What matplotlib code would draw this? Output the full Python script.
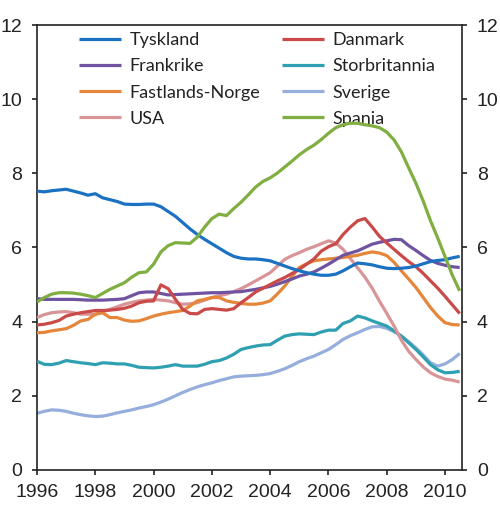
import numpy as np
import matplotlib
matplotlib.use("Agg")
import matplotlib.pyplot as plt

# quarterly data, 1996Q1 - 2010Q3
years = 1996 + 0.25 * np.arange(59)

tyskland = [7.52, 7.50, 7.53, 7.55, 7.57, 7.52, 7.47, 7.41, 7.45, 7.34, 7.29, 7.24,
            7.17, 7.16, 7.16, 7.17, 7.17, 7.10, 6.97, 6.84, 6.67, 6.50, 6.35, 6.22,
            6.10, 5.98, 5.86, 5.76, 5.71, 5.69, 5.69, 5.67, 5.64, 5.57, 5.50, 5.43,
            5.37, 5.32, 5.28, 5.25, 5.25, 5.28, 5.37, 5.48, 5.58, 5.56, 5.53, 5.48,
            5.44, 5.43, 5.44, 5.46, 5.50, 5.56, 5.62, 5.65, 5.67, 5.72, 5.76]
danmark = [3.91, 3.93, 3.97, 4.03, 4.15, 4.20, 4.24, 4.27, 4.30, 4.30, 4.31, 4.33,
           4.36, 4.42, 4.51, 4.55, 4.56, 4.99, 4.89, 4.60, 4.33, 4.22, 4.21, 4.33,
           4.35, 4.33, 4.31, 4.35, 4.51, 4.65, 4.80, 4.90, 5.00, 5.10, 5.19, 5.30,
           5.41, 5.55, 5.69, 5.90, 6.02, 6.10, 6.35, 6.55, 6.72, 6.78, 6.55, 6.30,
           6.12, 5.95, 5.78, 5.62, 5.48, 5.30, 5.10, 4.90, 4.68, 4.45, 4.22]
frankrike = [4.62, 4.60, 4.60, 4.60, 4.60, 4.60, 4.59, 4.58, 4.58, 4.58, 4.59, 4.60,
             4.62, 4.70, 4.78, 4.80, 4.80, 4.76, 4.72, 4.73, 4.74, 4.75, 4.76, 4.77,
             4.78, 4.78, 4.79, 4.80, 4.81, 4.84, 4.87, 4.91, 4.95, 5.01, 5.08, 5.15,
             5.23, 5.28, 5.34, 5.44, 5.55, 5.67, 5.79, 5.85, 5.91, 6.00, 6.09, 6.14,
             6.18, 6.22, 6.21, 6.05, 5.92, 5.78, 5.65, 5.57, 5.52, 5.48, 5.46]
storbritannia = [2.93, 2.85, 2.84, 2.88, 2.95, 2.92, 2.89, 2.87, 2.84, 2.89, 2.88, 2.86,
                 2.86, 2.82, 2.77, 2.76, 2.75, 2.77, 2.80, 2.84, 2.80, 2.80, 2.80, 2.85,
                 2.92, 2.95, 3.02, 3.12, 3.25, 3.30, 3.34, 3.37, 3.38, 3.50, 3.61, 3.65,
                 3.67, 3.66, 3.65, 3.72, 3.77, 3.77, 3.95, 4.02, 4.15, 4.10, 4.02, 3.95,
                 3.88, 3.75, 3.61, 3.43, 3.25, 3.05, 2.84, 2.70, 2.62, 2.63, 2.66]
norge = [3.70, 3.71, 3.75, 3.78, 3.81, 3.90, 4.02, 4.06, 4.20, 4.24, 4.11, 4.11,
         4.04, 4.01, 4.02, 4.08, 4.15, 4.20, 4.24, 4.27, 4.30, 4.42, 4.56, 4.60,
         4.65, 4.65, 4.56, 4.52, 4.49, 4.47, 4.47, 4.50, 4.56, 4.75, 4.96, 5.22,
         5.46, 5.56, 5.64, 5.67, 5.69, 5.71, 5.73, 5.76, 5.79, 5.84, 5.88, 5.85,
         5.78, 5.60, 5.37, 5.15, 4.92, 4.65, 4.38, 4.15, 3.97, 3.92, 3.91]
sverige = [1.53, 1.58, 1.62, 1.61, 1.58, 1.53, 1.49, 1.46, 1.44, 1.45, 1.49, 1.54,
           1.58, 1.62, 1.67, 1.71, 1.76, 1.83, 1.91, 2.00, 2.09, 2.17, 2.24, 2.30,
           2.35, 2.41, 2.46, 2.51, 2.53, 2.54, 2.55, 2.57, 2.60, 2.66, 2.73, 2.82,
           2.92, 3.00, 3.07, 3.16, 3.25, 3.38, 3.52, 3.62, 3.70, 3.79, 3.86, 3.87,
           3.82, 3.73, 3.61, 3.46, 3.29, 3.10, 2.89, 2.80, 2.86, 2.98, 3.14]
usa = [4.11, 4.19, 4.24, 4.26, 4.27, 4.24, 4.20, 4.20, 4.20, 4.26, 4.33, 4.40,
       4.47, 4.52, 4.56, 4.58, 4.60, 4.58, 4.56, 4.51, 4.47, 4.48, 4.51, 4.58,
       4.65, 4.70, 4.74, 4.81, 4.89, 4.99, 5.10, 5.21, 5.32, 5.50, 5.68, 5.78,
       5.86, 5.95, 6.02, 6.10, 6.18, 6.12, 5.95, 5.70, 5.45, 5.20, 4.90, 4.55,
       4.22, 3.88, 3.50, 3.20, 2.98, 2.78, 2.62, 2.52, 2.45, 2.42, 2.37]
spania = [4.53, 4.65, 4.74, 4.78, 4.78, 4.77, 4.74, 4.70, 4.65, 4.76, 4.87, 4.96,
          5.05, 5.20, 5.32, 5.34, 5.55, 5.88, 6.05, 6.13, 6.12, 6.11, 6.28, 6.55,
          6.78, 6.90, 6.86, 7.05, 7.22, 7.42, 7.63, 7.78, 7.88, 8.01, 8.17, 8.33,
          8.50, 8.64, 8.76, 8.91, 9.08, 9.23, 9.31, 9.35, 9.35, 9.31, 9.28, 9.23,
          9.11, 8.90, 8.58, 8.15, 7.73, 7.25, 6.72, 6.25, 5.75, 5.25, 4.83]

# legend order: column by column as in the original (rows pair up)
series = [
    ("Tyskland", tyskland, "#1b72c2"),
    ("Frankrike", frankrike, "#6f53a0"),
    ("Fastlands-Norge", norge, "#e5863a"),
    ("USA", usa, "#d99497"),
    ("Danmark", danmark, "#c94a48"),
    ("Storbritannia", storbritannia, "#2f9fb2"),
    ("Sverige", sverige, "#95aedb"),
    ("Spania", spania, "#80ae40"),
]
draw_order = ["Sverige", "Storbritannia", "USA", "Fastlands-Norge", "Frankrike",
              "Danmark", "Tyskland", "Spania"]

fig = plt.figure(figsize=(5.0, 5.21), dpi=100)
ax = fig.add_axes([0.074, 0.098, 0.850, 0.854])

lines = {}
for name, vals, col in series:
    z = 2 + draw_order.index(name)
    lines[name], = ax.plot(years, vals, color=col, lw=2.3, label=name, zorder=z,
                           solid_capstyle="butt")

ax.set_xlim(1996, 2010.58)
ax.set_ylim(0, 12)
ax.set_xticks(range(1996, 2011, 2))
ax.set_yticks(range(0, 13, 2))

ax.tick_params(axis="both", direction="out", length=3.8, width=1.2, color="#222222",
               labelsize=14, labelcolor="#222222")
ax.tick_params(axis="y", right=True, labelright=True, pad=7)
ax.tick_params(axis="x", pad=6)
for lab in ax.get_xticklabels() + ax.get_yticklabels():
    lab.set_fontfamily("Liberation Sans")
for lab in ax.yaxis.get_ticklabels(which="major"):
    lab.set_fontfamily("Liberation Sans")
for t in ax.yaxis.get_major_ticks():
    t.label2.set_fontfamily("Liberation Sans")
for side in ["top", "bottom", "left", "right"]:
    ax.spines[side].set_linewidth(1.2)
    ax.spines[side].set_color("#222222")

handles = [lines[n] for n, _, _ in series]
leg = ax.legend(handles=handles, ncol=2, loc="upper left", frameon=False,
                bbox_to_anchor=(0.06, 1.02), handlelength=2.35, handletextpad=0.45,
                columnspacing=1.2, labelspacing=0.56,
                prop={"family": "Lato", "size": 13})
for t in leg.get_texts():
    t.set_color("#222222")

fig.savefig("out.png", dpi=100)
